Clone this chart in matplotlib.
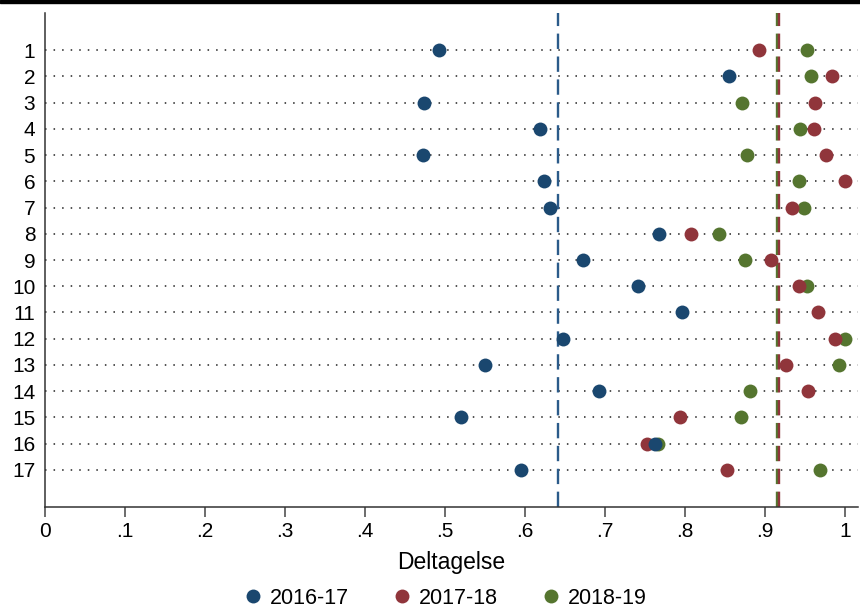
import matplotlib
matplotlib.use("Agg")
import matplotlib.pyplot as plt
import numpy as np

plt.rcParams['font.family'] = ['Liberation Sans', 'DejaVu Sans']

# deltagelse pr. enhed (1-17) for hvert skoleår
enheder = list(range(1, 18))
y_2016 = [0.493, 0.855, 0.474, 0.619, 0.473, 0.624, 0.631, 0.768, 0.673,
          0.741, 0.796, 0.647, 0.550, 0.693, 0.520, 0.763, 0.595]
y_2017 = [0.892, 0.984, 0.963, 0.961, 0.976, 1.000, 0.934, 0.807, 0.907,
          0.943, 0.966, 0.987, 0.926, 0.954, 0.794, 0.753, 0.853]
y_2018 = [0.952, 0.957, 0.871, 0.944, 0.878, 0.942, 0.949, 0.842, 0.875,
          0.952, np.nan, 1.000, 0.993, 0.881, 0.870, 0.766, 0.969]

# gennemsnit (stiplede linjer)
gns_2016 = 0.6415
gns_2017 = 0.9175
gns_2018 = 0.9146

xticks = [0, .1, .2, .3, .4, .5, .6, .7, .8, .9, 1]
xticklabels = ['0', '.1', '.2', '.3', '.4', '.5', '.6', '.7', '.8', '.9', '1']

navy = '#1a476f'
maroon = '#90353b'
green = '#55752f'
fs = 15

W, H = 860, 612
fig = plt.figure(figsize=(W / 100, H / 100), dpi=100)
ax = fig.add_axes([45 / W, 1 - 507 / H, (858 - 45) / W, (507 - 13) / H])

# prikkede hjælpelinjer for hver enhed
for e in enheder:
    ax.plot([0, 1.1], [e, e], color='#222222', lw=1.1,
            linestyle=(0, (1, 4.6)), zorder=1)

ax.axvline(gns_2016, color='#2b5b8a', lw=1.7, dashes=(6.5, 3.2), zorder=2)
ax.axvline(gns_2018, color=green, lw=1.7, dashes=(6.5, 3.2), zorder=2)
ax.axvline(gns_2017, color=maroon, lw=1.7, dashes=(6.5, 3.2), zorder=2)

ax.plot(y_2018, enheder, 'o', color=green, ms=10, mew=0, zorder=3, label='2018-19')
ax.plot(y_2017, enheder, 'o', color=maroon, ms=10, mew=0, zorder=4, label='2017-18')
ax.plot(y_2016, enheder, 'o', color=navy, ms=10, mew=0, zorder=5, label='2016-17')

ax.set_xlim(0, (858 - 45) / 800)
ax.set_ylim(18.41, -0.41)
ax.set_yticks(enheder)
ax.set_yticklabels([str(e) for e in enheder], fontsize=fs)
ax.set_xticks(xticks)
ax.set_xticklabels(xticklabels, fontsize=fs)
ax.tick_params(axis='y', length=0, pad=7)
ax.tick_params(axis='x', length=7, width=1.1, color='#444444', pad=4)
ax.set_xlabel('Deltagelse', fontsize=16.5, labelpad=7)

for side in ['top', 'right']:
    ax.spines[side].set_visible(False)
for side in ['left', 'bottom']:
    ax.spines[side].set_color('#333333')
    ax.spines[side].set_linewidth(1.1)

handles, labels = ax.get_legend_handles_labels()
order = [2, 1, 0]
fig.legend([handles[i] for i in order], [labels[i] for i in order],
           loc='center', bbox_to_anchor=(0.517, 1 - 598 / H), ncol=3,
           frameon=False, fontsize=15.5, handletextpad=0.3, columnspacing=1.95,
           handlelength=1.0, borderpad=0.1)

# sort kant øverst
fig.add_artist(plt.Rectangle((0, 1 - 3 / H), 1, 3 / H, transform=fig.transFigure,
                             color='black', zorder=10))

fig.savefig('out.png', dpi=100)
